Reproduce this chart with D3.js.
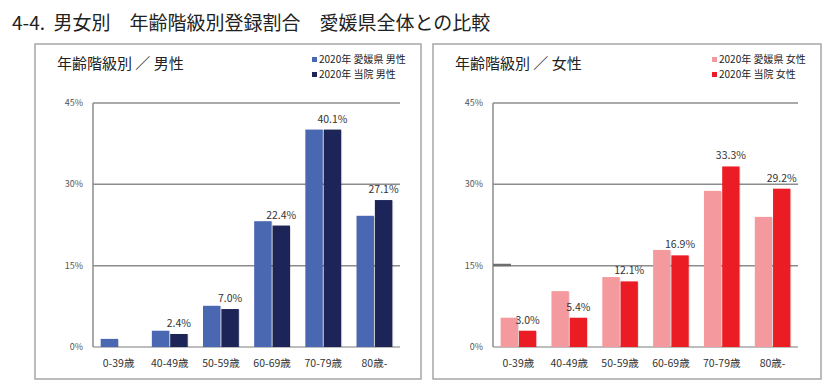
<!DOCTYPE html>
<html>
<head>
<meta charset="utf-8">
<script src="https://cdn.jsdelivr.net/npm/d3@7"></script>
<style>
  body { margin: 0; background: #fff; }
  svg { display: block; font-family: "Noto Sans CJK JP", "Noto Sans", sans-serif; }
</style>
</head>
<body>
<svg id="chart" width="830" height="391"></svg>
<script>
"use strict";

// age groups and y ticks
const ageGroups = ["0-39歳", "40-49歳", "50-59歳", "60-69歳", "70-79歳", "80歳-"];
const yTicks = [0, 15, 30, 45];

// male (%)
const maleEhime = [1.5, 3.0, 7.6, 23.2, 40.1, 24.2];
const maleHospital = [0, 2.4, 7.0, 22.4, 40.1, 27.1];

// female (%)
const femaleEhime = [5.4, 10.3, 12.9, 17.9, 28.8, 24.0];
const femaleHospital = [3.0, 5.4, 12.1, 16.9, 33.3, 29.2];

const svg = d3.select("#chart");

svg.append("text")
  .attr("x", 12).attr("y", 30)
  .attr("font-size", 19)
  .attr("font-weight", 400)
  .attr("fill", "#222")
  .attr("xml:space", "preserve")
  .text("4-4.  男女別　年齢階級別登録割合　愛媛県全体との比較");

function drawPanel(opts) {
  const g = svg.append("g");

  // frame
  g.append("rect")
    .attr("x", opts.box[0]).attr("y", opts.box[1])
    .attr("width", opts.box[2]).attr("height", opts.box[3])
    .attr("fill", "#fff")
    .attr("stroke", "#a6a6a6")
    .attr("stroke-width", 1.5);

  // sub title
  g.append("text")
    .attr("x", opts.titleX).attr("y", 69)
    .attr("font-size", 15)
    .attr("fill", "#222")
    .attr("xml:space", "preserve")
    .text(opts.title);

  // legend
  opts.legend.forEach(function (d, i) {
    g.append("rect")
      .attr("x", opts.legendX).attr("y", 57 + i * 15)
      .attr("width", 5).attr("height", 5)
      .attr("fill", d.color);
    g.append("text")
      .attr("x", opts.legendX + 7).attr("y", 63 + i * 15)
      .attr("font-size", 10)
      .attr("fill", "#222")
      .text(d.label);
  });

  const x = d3.scaleBand()
    .domain(ageGroups)
    .range([opts.left, opts.right])
    .paddingInner(0.3)
    .paddingOuter(0.15);

  const y = d3.scaleLinear()
    .domain([0, 45])
    .range([347, 103]);

  // gridlines + tick labels
  g.append("g")
    .selectAll("line")
    .data(yTicks)
    .join("line")
      .attr("x1", opts.left).attr("x2", opts.right)
      .attr("y1", d => y(d)).attr("y2", d => y(d))
      .attr("stroke", d => d === 0 ? "#bdbdbd" : "#8c8c8c")
      .attr("stroke-width", d => d === 0 ? 2 : 1.5);

  g.append("g")
    .selectAll("text")
    .data(yTicks)
    .join("text")
      .attr("x", opts.left - 10)
      .attr("y", d => y(d) + 3)
      .attr("text-anchor", "end")
      .attr("font-size", 9)
      .attr("fill", "#555")
      .text(d => d + "%");

  // y axis line
  g.append("line")
    .attr("x1", opts.left).attr("x2", opts.left)
    .attr("y1", y(45)).attr("y2", y(0))
    .attr("stroke", "#8c8c8c")
    .attr("stroke-width", 1.5);

  const x1 = d3.scaleBand()
    .domain([0, 1])
    .range([0, x.bandwidth()])
    .paddingInner(0.05);

  const series = [opts.ehime, opts.hospital];
  const colors = [opts.legend[0].color, opts.legend[1].color];

  series.forEach(function (vals, si) {
    const sg = g.append("g");
    // faint shadow
    sg.selectAll("rect.shadow")
      .data(vals)
      .join("rect")
        .attr("class", "shadow")
        .attr("x", (d, i) => x(ageGroups[i]) + x1(si) + 1)
        .attr("y", d => y(d) + 1)
        .attr("width", x1.bandwidth())
        .attr("height", d => Math.max(0, y(0) - y(d) - 1))
        .attr("fill", "#000")
        .attr("opacity", d => d > 0 ? 0.12 : 0);
    sg.selectAll("rect.bar")
      .data(vals)
      .join("rect")
        .attr("class", "bar")
        .attr("x", (d, i) => x(ageGroups[i]) + x1(si))
        .attr("y", d => y(d))
        .attr("width", x1.bandwidth())
        .attr("height", d => y(0) - y(d))
        .attr("fill", colors[si]);
  });

  // value labels (hospital only)
  g.append("g")
    .selectAll("text")
    .data(opts.hospital)
    .join("text")
      .attr("x", (d, i) => x(ageGroups[i]) + x1(1) + x1.bandwidth() / 2)
      .attr("y", d => y(d) - 7)
      .attr("text-anchor", "middle")
      .attr("font-size", 10.5)
      .attr("fill", "#333")
      .text(d => d > 0 ? d.toFixed(1) + "%" : "");

  // x labels
  g.append("g")
    .selectAll("text")
    .data(ageGroups)
    .join("text")
      .attr("x", d => x(d) + x.bandwidth() / 2)
      .attr("y", 367)
      .attr("text-anchor", "middle")
      .attr("font-size", 10.5)
      .attr("fill", "#333")
      .text(d => d);

  return g;
}

drawPanel({
  box: [35, 44, 386, 335],
  title: "年齢階級別 ／ 男性",
  titleX: 57,
  legendX: 312,
  left: 93,
  right: 400,
  ehime: maleEhime,
  hospital: maleHospital,
  legend: [
    { label: "2020年 愛媛県 男性", color: "#4a67b1" },
    { label: "2020年 当院 男性", color: "#1d2558" }
  ]
});

const right = drawPanel({
  box: [433, 44, 388, 335],
  title: "年齢階級別 ／ 女性",
  titleX: 455,
  legendX: 712,
  left: 493,
  right: 798,
  ehime: femaleEhime,
  hospital: femaleHospital,
  legend: [
    { label: "2020年 愛媛県 女性", color: "#f4999d" },
    { label: "2020年 当院 女性", color: "#ec1c24" }
  ]
});

// short thick stub on the 15% line, as in the original
right.append("line")
  .attr("x1", 493).attr("x2", 511)
  .attr("y1", 265).attr("y2", 265)
  .attr("stroke", "#6e6e6e")
  .attr("stroke-width", 2.5);
</script>
</body>
</html>
